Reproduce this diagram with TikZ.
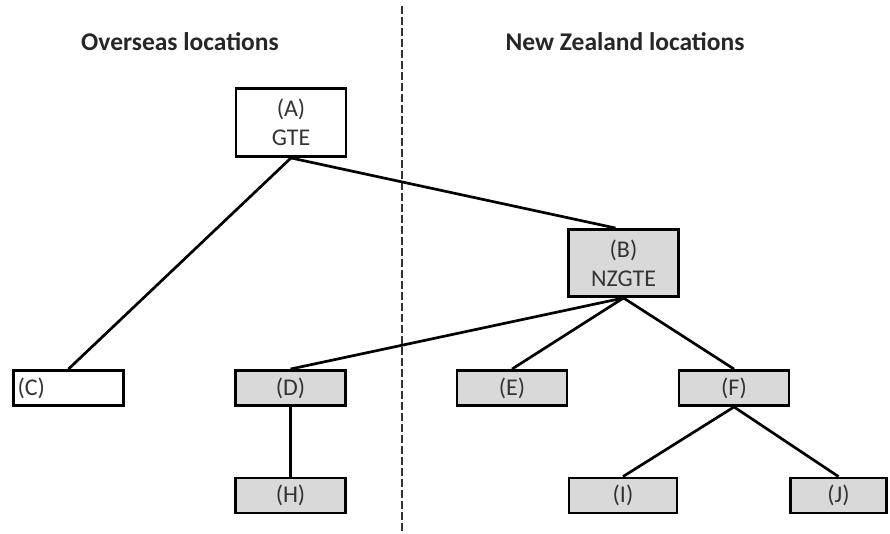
\documentclass[tikz,border=0pt]{standalone}
\usepackage{fontspec}
\setmainfont{Carlito}
\definecolor{boxgray}{HTML}{D9D9D9}
\definecolor{txtgray}{HTML}{333333}
\tikzset{
  site/.style={draw=black, line width=2.9pt, text=txtgray, inner sep=0pt,
    font=\fontsize{24}{27}\selectfont, minimum width=110pt, minimum height=35pt},
  nz/.style={site, fill=boxgray},
  head/.style={font=\fontsize{25.5}{30}\selectfont\bfseries, text=black!85}
}
\begin{document}
\begin{tikzpicture}[x=1pt, y=-1pt]
  \useasboundingbox (0,0) rectangle (890,534);
  % headings and border line
  \node[head] (over) at (180,42) {Overseas locations};
  \node[head] (home) at (625,42) {New Zealand locations};
  \coordinate (top) at (402,6);
  \coordinate (bot) at (402,534);
  \draw[line width=1.5pt, dash pattern=on 8pt off 3pt, black!80] (top) -- (bot);
  % boxes
  \draw
    (291,122.5) node[site, minimum height=68pt, align=center] (a){\raisebox{-3pt}{(A)}\\[5pt]GTE}
    (623.5,263) node[nz, minimum height=67pt, align=center] (b){\raisebox{-3pt}{(B)}\\[5pt]NZGTE}
    (68.5,388) node[site, text width=102pt, inner xsep=4pt, align=left] (c){(C)}
    (290.5,388) node[nz] (d){(D)}
    (512,388) node[nz] (e){(E)}
    (734,388) node[nz] (f){(F)}
    (290.5,495.5) node[nz] (h){(H)}
    (623,495.5) node[nz, minimum width=108pt] (i){(I)}
    (838.5,495.5) node[nz, minimum width=96pt] (j){(J)};
  \begin{scope}[line width=2.7pt]
    \draw (a.south) to (c.north);
    \draw (a.south) to ([xshift=-8pt]b.north);
    \draw (b.south) to (d.north);
    \draw (b.south) to (e.north);
    \draw (b.south) to (f.north);
    \draw (d.south) to (h.north);
    \draw (f.south) to (i.north);
    \draw (f.south) to (j.north);
  \end{scope}
\end{tikzpicture}
\end{document}
